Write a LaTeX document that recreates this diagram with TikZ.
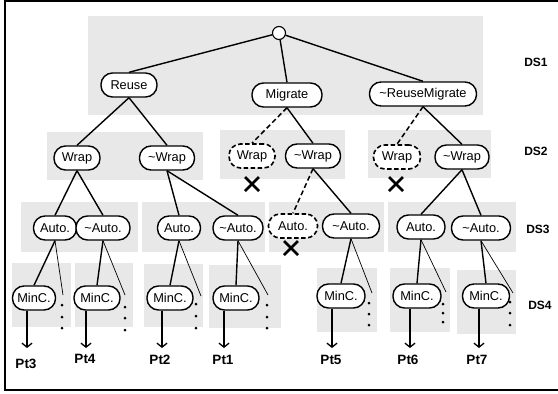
\documentclass[tikz,border=0pt]{standalone}
\usepackage{fontspec}
\setmainfont{Liberation Sans}
\usetikzlibrary{arrows.meta}
\definecolor{panelgray}{RGB}{232,232,232}
\tikzset{
  panel/.style={fill=panelgray, draw=none},
  nd/.style={draw, fill=white, rounded corners=11.5pt, line width=1.4pt,
    minimum height=24pt, inner xsep=1pt, inner ysep=0pt,
    font=\fontsize{12.8}{14}\selectfont},
  gone/.style={nd, dash pattern=on 4.5pt off 2.5pt, line width=1.6pt},
  edge/.style={line width=1.4pt},
  dedge/.style={line width=1.5pt, dash pattern=on 5pt off 3pt},
  thin/.style={line width=0.7pt},
  dotm/.style={circle, fill=black, inner sep=0pt, minimum size=3pt},
  outarrow/.style={line width=1.4pt, -{Straight Barb[length=4pt,width=10pt,line width=1.3pt]}},
  ptlabel/.style={font=\fontsize{13.5}{15}\selectfont\bfseries, inner sep=0pt},
  dslabel/.style={font=\fontsize{12}{14}\selectfont\bfseries, inner sep=0pt},
  xmark/.style={line width=2.5pt},
}
\newcommand{\tl}{\textasciitilde}
\begin{document}
\begin{tikzpicture}[x=1pt, y=-1pt]
\useasboundingbox (0,0) rectangle (558,394);
% frame (open on the right)
\draw[line width=1.3pt] (562,1) -- (5,1) -- (5,390) -- (562,390);

% grey bands
\fill[panel] (88,16) rectangle (483,115);
\fill[panel] (47,132) rectangle (203,180);
\fill[panel] (220,130) rectangle (345,179);
\fill[panel] (368,130) rectangle (491,178);
\fill[panel] (21,202) rectangle (138,252);
\fill[panel] (142,202) rectangle (265,252);
\fill[panel] (269,202) rectangle (384,252);
\fill[panel] (388,202) rectangle (516,252);
\fill[panel] (12,263) rectangle (71,327);
\fill[panel] (75,263) rectangle (133,327);
\fill[panel] (144,264) rectangle (203,327);
\fill[panel] (209,265) rectangle (281,328);
\fill[panel] (317,268) rectangle (377,332);
\fill[panel] (390,268) rectangle (450,332);
\fill[panel] (457,270) rectangle (516,334);

% level 1
\node[circle, draw, fill=white, line width=1.1pt, minimum size=13pt, inner sep=0pt] (root) at (279,33) {};
\node[nd, minimum width=56pt] (reuse) at (129,85) {Reuse};
\node[nd, minimum width=70pt] (migrate) at (287,95) {Migrate};
\node[nd, minimum width=107pt] (rmig) at (423,94) {\tl ReuseMigrate};

% level 2
\node[nd, minimum width=46pt] (w1) at (77,158) {Wrap};
\node[nd, minimum width=55pt] (nw1) at (167,158) {\tl Wrap};
\node[gone, minimum width=46pt] (w2) at (252,156) {Wrap};
\node[nd, minimum width=55pt] (nw2) at (313,156) {\tl Wrap};
\node[gone, minimum width=47pt] (w3) at (397,157) {Wrap};
\node[nd, minimum width=54pt] (nw3) at (462,157) {\tl Wrap};

% level 3
\node[nd, minimum width=43pt] (a1) at (55,228) {Auto.};
\node[nd, minimum width=54pt] (na1) at (103,228) {\tl Auto.};
\node[nd, minimum width=43pt] (a2) at (179,228) {Auto.};
\node[nd, minimum width=50pt] (na2) at (238,228) {\tl Auto.};
\node[gone, minimum width=49pt] (a3) at (293,226) {Auto.};
\node[nd, minimum width=57pt] (na3) at (351,226) {\tl Auto.};
\node[nd, minimum width=48pt] (a4) at (421,227) {Auto.};
\node[nd, minimum width=59pt] (na4) at (481,228) {\tl Auto.};

% level 4
\node[nd, minimum width=43pt] (m1) at (34,298) {MinC.};
\node[nd, minimum width=46pt] (m2) at (97,298) {MinC.};
\node[nd, minimum width=46pt] (m3) at (170,298) {MinC.};
\node[nd, minimum width=46pt] (m4) at (236,298) {MinC.};
\node[nd, minimum width=48pt] (m5) at (341,296) {MinC.};
\node[nd, minimum width=48pt] (m6) at (417,296) {MinC.};
\node[nd, minimum width=47pt] (m7) at (486,296) {MinC.};

% elided siblings (vertical dots)
\foreach \n/\x/\ya/\yb/\yc/\tx/\ty in {
  1/62/305/317/328/63/295,
  2/125/307/318/330/125/295,
  3/196/304/316/328/201/296,
  4/267/305/317/328/268/295,
  5/369/303/314/325/372/293,
  6/443/304/313/322/446/292,
  7/510/302/313/325/513/293}{
  \node[dotm] (d\n a) at (\x,\ya) {};
  \node[dotm] (d\n b) at (\x,\yb) {};
  \node[dotm] (d\n c) at (\x,\yc) {};
  \coordinate (t\n) at (\tx,\ty);
}

% connectors, level 1 -> 2
\draw[edge] (root) -- (reuse.north);
\draw[edge] (root) -- (migrate.north);
\draw[edge] (root) -- (rmig.north);
\draw[edge] (reuse.south) -- (w1.north);
\draw[edge] (reuse.south) -- (nw1.north);
\draw[dedge] (migrate.south) -- (w2.north);
\draw[edge] (migrate.south) -- (nw2.north);
\draw[dedge] (rmig.south) -- (w3.north);
\draw[edge] (rmig.south) -- (nw3.north);

% level 2 -> 3
\draw[edge] (w1.south) -- (a1.north);
\draw[edge] (w1.south) -- (na1.north);
\draw[edge] (nw1.south) -- (a2.north);
\draw[edge] (nw1.south) -- (na2.north);
\draw[dedge] (nw2.south) -- (a3.north);
\draw[edge] (nw2.south) -- (na3.north);
\draw[edge] (nw3.south) -- (a4.north);
\draw[edge] (nw3.south) -- (na4.north);

% level 3 -> 4
\foreach \p/\c/\n in {a1/m1/1, na1/m2/2, a2/m3/3, na2/m4/4, na3/m5/5, a4/m6/6, na4/m7/7}{
  \draw[edge] (\p.south) -- (\c.north);
  \draw[thin] (\p.south) -- (t\n);
}

% pruned branches
\draw[xmark] (245,177) -- (259,191) (259,177) -- (245,191);
\draw[xmark] (389,177) -- (403,191) (403,177) -- (389,191);
\draw[xmark] (284,241) -- (298,255) (298,241) -- (284,255);

% results
\node[ptlabel] (pt3) at (26,364) {Pt3};
\node[ptlabel] (pt4) at (85,359) {Pt4};
\node[ptlabel] (pt2) at (160,360) {Pt2};
\node[ptlabel] (pt1) at (223,360) {Pt1};
\node[ptlabel] (pt5) at (331,360) {Pt5};
\node[ptlabel] (pt6) at (408,360) {Pt6};
\node[ptlabel] (pt7) at (477,360) {Pt7};
\foreach \m/\x in {m1/27, m2/86, m3/162, m4/224, m5/332, m6/410, m7/479}{
  \coordinate (\m end) at (\x,348);
  \draw[outarrow] (\m.south -| \m end) -- (\m end);
}

% design-space levels
\node[dslabel] (ds1) at (536,62) {DS1};
\node[dslabel] (ds2) at (536,151) {DS2};
\node[dslabel] (ds3) at (538,229) {DS3};
\node[dslabel] (ds4) at (540,305) {DS4};
\end{tikzpicture}
\end{document}
